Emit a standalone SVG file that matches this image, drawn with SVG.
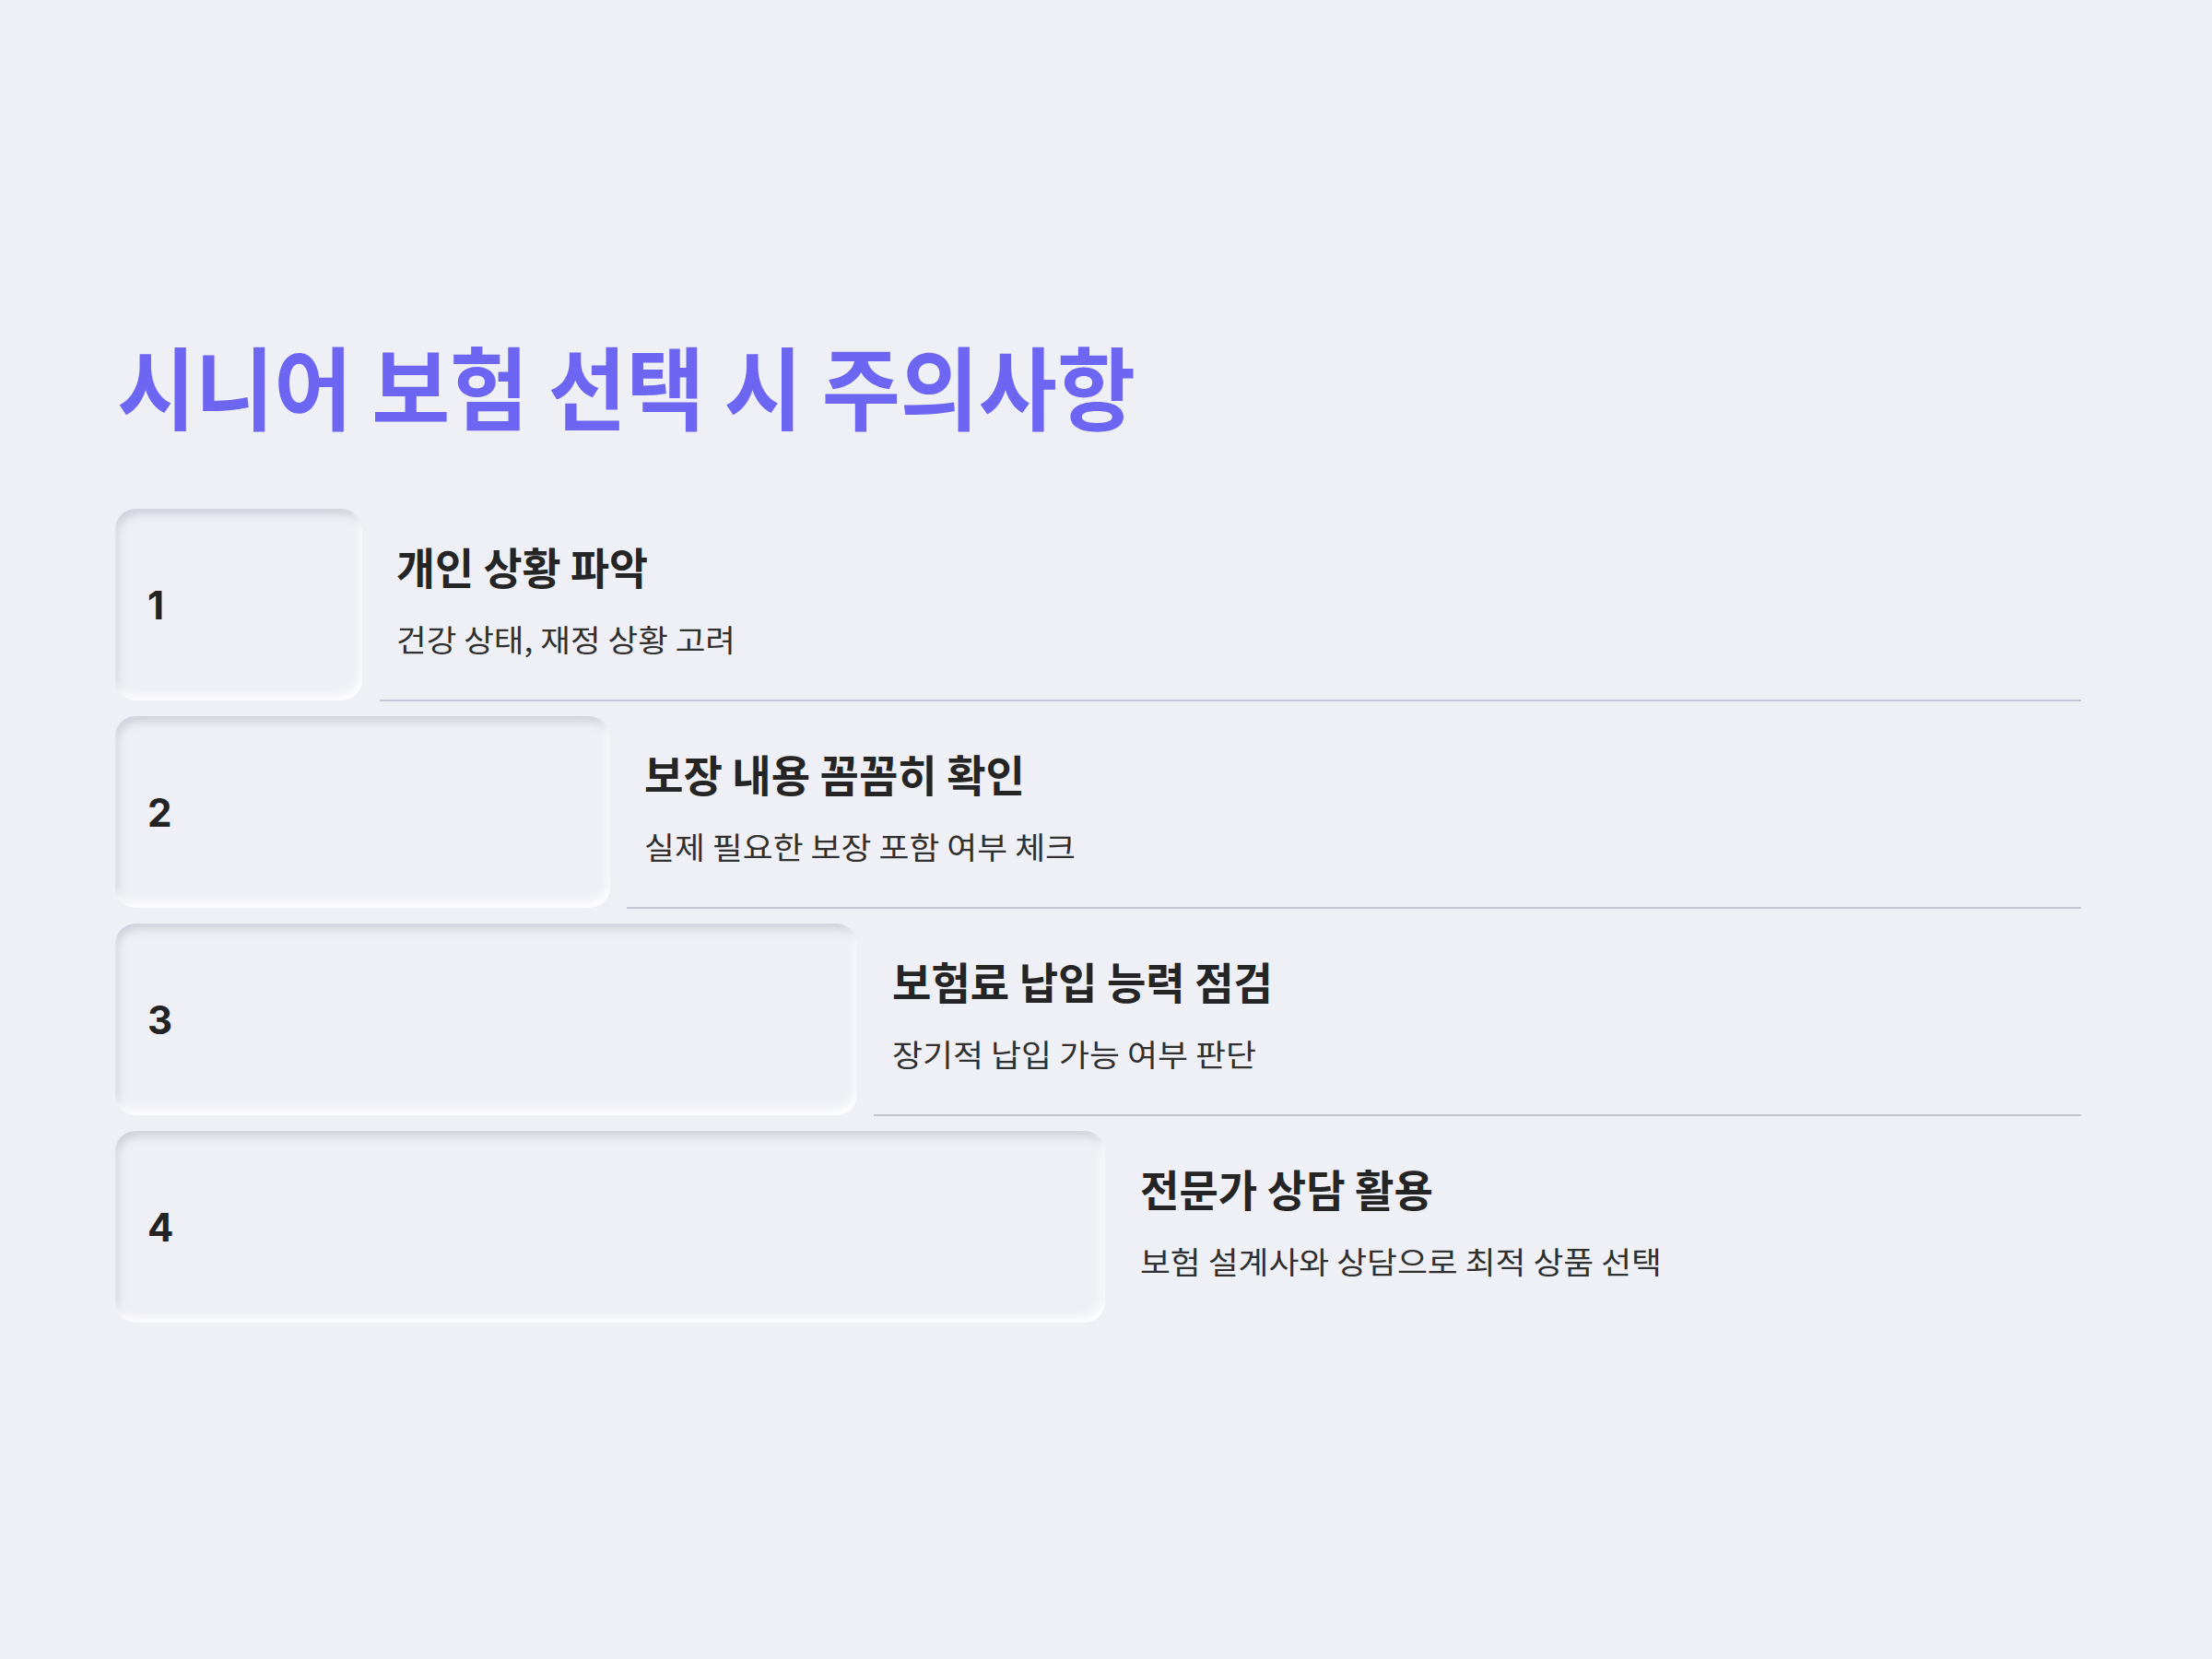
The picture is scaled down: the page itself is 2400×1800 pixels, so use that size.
<svg xmlns="http://www.w3.org/2000/svg" width="2400" height="1800" viewBox="0 0 2400 1800">
  <defs>
    <filter id="inset" x="-5%" y="-10%" width="110%" height="120%">
      <feComponentTransfer in="SourceAlpha" result="inv">
        <feFuncA type="table" tableValues="1 0"/>
      </feComponentTransfer>
      <feGaussianBlur in="inv" stdDeviation="5" result="blur"/>
      <feOffset in="blur" dx="3" dy="6" result="offDark"/>
      <feFlood flood-color="#a9abbd" flood-opacity="0.55"/>
      <feComposite in2="offDark" operator="in"/>
      <feComposite in2="SourceAlpha" operator="in" result="dark"/>
      <feOffset in="blur" dx="-3" dy="-6" result="offLight"/>
      <feFlood flood-color="#ffffff" flood-opacity="0.9"/>
      <feComposite in2="offLight" operator="in"/>
      <feComposite in2="SourceAlpha" operator="in" result="light"/>
      <feMerge>
        <feMergeNode in="SourceGraphic"/>
        <feMergeNode in="dark"/>
        <feMergeNode in="light"/>
      </feMerge>
    </filter>
  </defs>
  <style>
    .bg { fill: #eff0f5; }
    .box { fill: #eff0f5; filter: url(#inset); }
    .title { font-family: "Noto Sans CJK KR", "Noto Sans", sans-serif; font-weight: 700; font-size: 98px; fill: #6d66f2; }
    .num { font-family: Inter, "Noto Sans", sans-serif; font-weight: 700; font-size: 42px; fill: #232323; }
    .head { font-family: "Noto Sans CJK KR", "Noto Sans", sans-serif; font-weight: 700; font-size: 47px; fill: #252525; }
    .sub { font-family: "Noto Sans CJK KR", "Noto Sans", sans-serif; font-weight: 400; font-size: 33px; fill: #303030; }
    .div { stroke: #c5c4d5; stroke-width: 2; }
  </style>
  <rect class="bg" x="0" y="0" width="2400" height="1800"/>
  <text id="title" class="title" x="127" y="459" textLength="1105" lengthAdjust="spacingAndGlyphs">시니어 보험 선택 시 주의사항</text>

  <g id="dividers">
    <line class="div" x1="412" y1="760" x2="2258" y2="760"/>
    <line class="div" x1="680" y1="985" x2="2258" y2="985"/>
    <line class="div" x1="948" y1="1210" x2="2258" y2="1210"/>
  </g>

  <g id="step1">
    <rect class="box" x="125" y="552" width="268" height="208" rx="22"/>
    <text class="num" x="160" y="672">1</text>
    <text class="head" x="430" y="634" textLength="273" lengthAdjust="spacingAndGlyphs">개인 상황 파악</text>
    <text class="sub" x="430" y="707" textLength="368" lengthAdjust="spacingAndGlyphs">건강 상태, 재정 상황 고려</text>
  </g>
  <g id="step2">
    <rect class="box" x="125" y="777" width="537" height="208" rx="22"/>
    <text class="num" x="160" y="897">2</text>
    <text class="head" x="699" y="859" textLength="413" lengthAdjust="spacingAndGlyphs">보장 내용 꼼꼼히 확인</text>
    <text class="sub" x="699" y="932" textLength="468" lengthAdjust="spacingAndGlyphs">실제 필요한 보장 포함 여부 체크</text>
  </g>
  <g id="step3">
    <rect class="box" x="125" y="1002" width="805" height="208" rx="22"/>
    <text class="num" x="160" y="1122">3</text>
    <text class="head" x="968" y="1084" textLength="413" lengthAdjust="spacingAndGlyphs">보험료 납입 능력 점검</text>
    <text class="sub" x="968" y="1157" textLength="395" lengthAdjust="spacingAndGlyphs">장기적 납입 가능 여부 판단</text>
  </g>
  <g id="step4">
    <rect class="box" x="125" y="1227" width="1074" height="208" rx="22"/>
    <text class="num" x="160" y="1347">4</text>
    <text class="head" x="1237" y="1309" textLength="318" lengthAdjust="spacingAndGlyphs">전문가 상담 활용</text>
    <text class="sub" x="1237" y="1382" textLength="566" lengthAdjust="spacingAndGlyphs">보험 설계사와 상담으로 최적 상품 선택</text>
  </g>
</svg>
